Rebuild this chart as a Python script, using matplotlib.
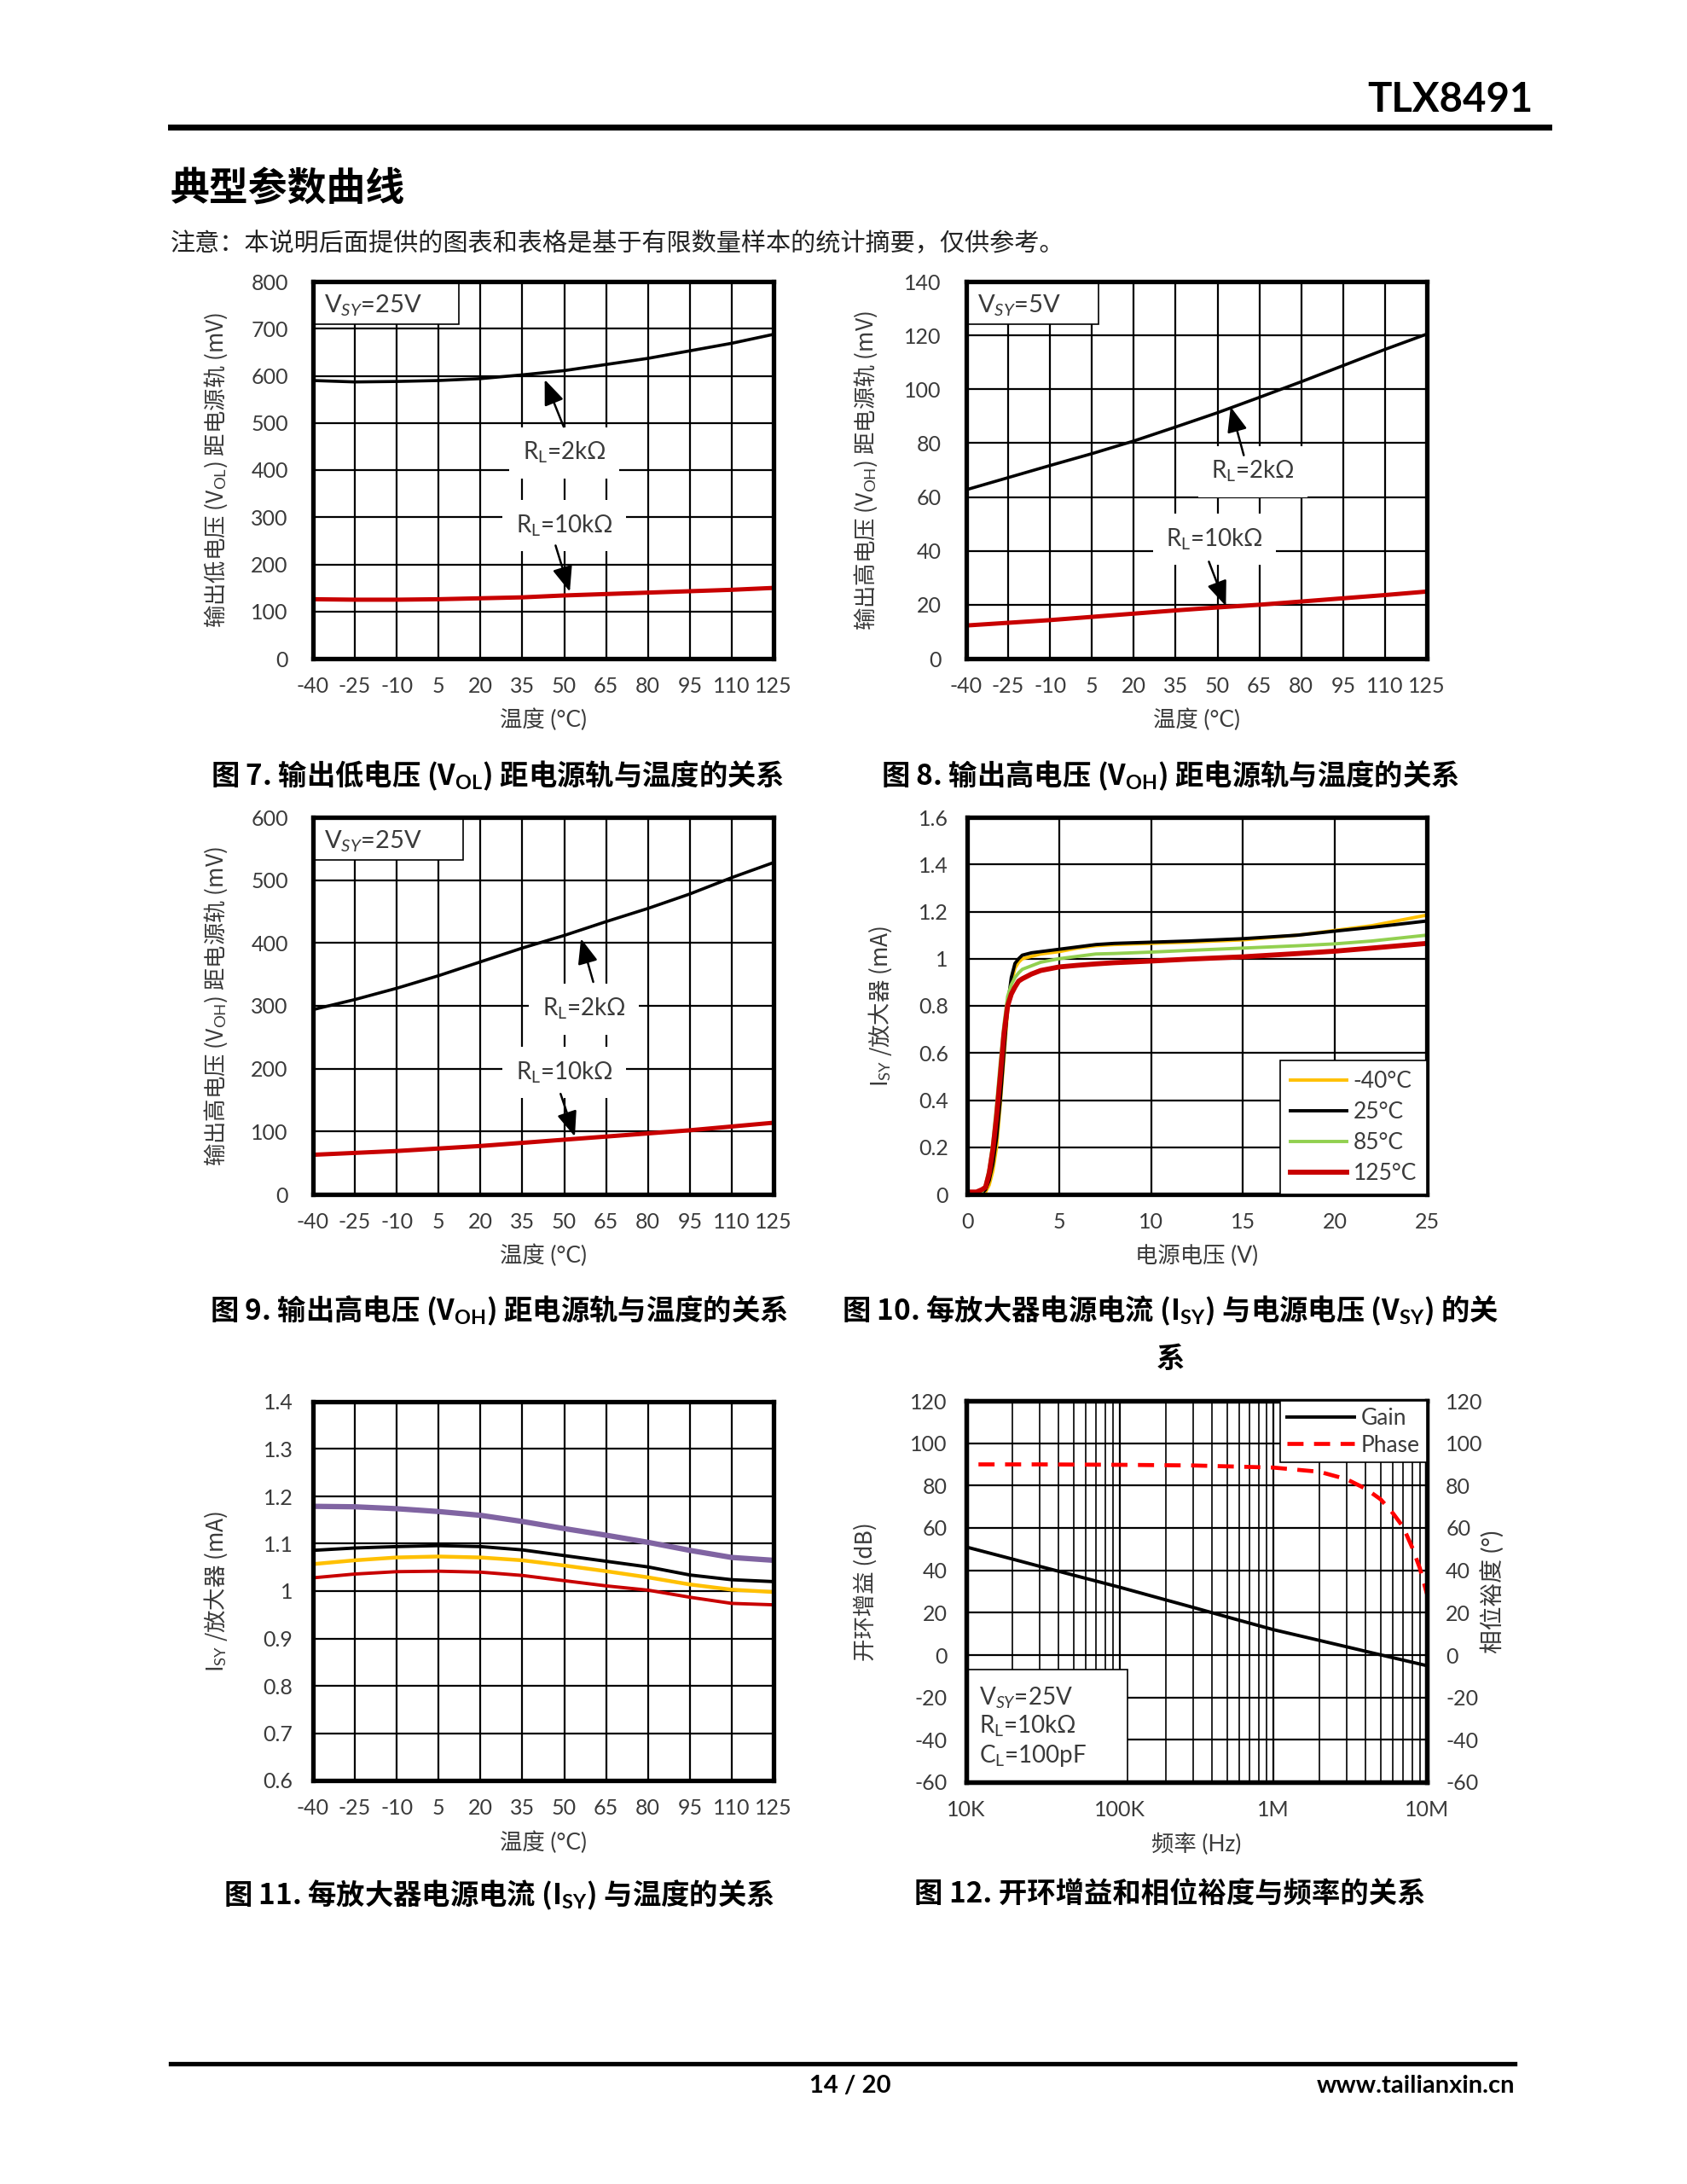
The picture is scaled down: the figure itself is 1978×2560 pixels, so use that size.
import matplotlib
matplotlib.use('Agg')
import matplotlib.pyplot as plt
import matplotlib.patches as patches
from matplotlib.lines import Line2D
from matplotlib.ticker import LogLocator, NullFormatter

plt.rcParams['font.family'] = ['Lato', 'Noto Sans CJK SC', 'DejaVu Sans']
plt.rcParams['mathtext.fontset'] = 'custom'
plt.rcParams['mathtext.rm'] = 'Lato'
plt.rcParams['mathtext.it'] = 'Lato:italic'
plt.rcParams['mathtext.bf'] = 'Lato:bold'
plt.rcParams['axes.unicode_minus'] = False

CJK = 'Noto Sans CJK SC'
NARROW = ['Liberation Sans Narrow', 'Lato']
W, H = 1978, 2560
GRAY = '#3a3a3a'
RED = '#C80000'

# ---------------- data ----------------
temps = [-40, -25, -10, 5, 20, 35, 50, 65, 80, 95, 110, 125]
temp_ticks = temps

# fig 7: VOL vs temperature, VSY=25V
vol_2k = [590, 587, 588, 590, 594, 602, 611, 624, 637, 653, 669, 688]
vol_10k = [126, 125, 125, 126, 128, 130, 134, 137, 140, 143, 146, 150]

# fig 8: VOH vs temperature, VSY=5V
voh5_2k = [62.7, 67.2, 71.7, 76.1, 80.8, 86.0, 91.3, 97.0, 102.8, 108.8, 114.8, 120.5]
voh5_10k = [12.3, 13.3, 14.3, 15.5, 16.7, 17.9, 19.0, 20.0, 21.2, 22.4, 23.6, 24.9]

# fig 9: VOH vs temperature, VSY=25V
voh25_2k = [294, 310, 328, 348, 370, 392, 412, 434, 455, 478, 504, 528]
voh25_10k = [63, 66, 69, 73, 77, 82, 87, 92, 97, 102, 108, 114]

# fig 10: ISY vs supply voltage
vsup = [0, 0.5, 0.8, 1.0, 1.2, 1.4, 1.6, 1.8, 2.0, 2.2, 2.4, 2.6, 2.8, 3.0,
        3.5, 4, 5, 6, 7, 8, 10, 12, 15, 18, 20, 22, 25]
isy_m40 = [0, 0, 0, 0.01, 0.04, 0.10, 0.20, 0.38, 0.58, 0.78, 0.90, 0.96, 0.985, 1.0,
           1.01, 1.02, 1.03, 1.045, 1.055, 1.06, 1.065, 1.07, 1.08, 1.10, 1.12, 1.14, 1.185]
isy_25 = [0, 0, 0.005, 0.02, 0.06, 0.13, 0.24, 0.40, 0.60, 0.80, 0.92, 0.98, 1.0, 1.015,
          1.025, 1.03, 1.04, 1.05, 1.06, 1.065, 1.07, 1.075, 1.085, 1.10, 1.117, 1.133, 1.16]
isy_85 = [0.005, 0.005, 0.01, 0.04, 0.11, 0.22, 0.38, 0.56, 0.72, 0.84, 0.89, 0.92, 0.94, 0.955,
          0.97, 0.985, 1.0, 1.01, 1.02, 1.022, 1.028, 1.035, 1.045, 1.055, 1.063, 1.075, 1.10]
isy_125 = [0.01, 0.01, 0.02, 0.03, 0.09, 0.19, 0.33, 0.50, 0.68, 0.80, 0.85, 0.88, 0.905, 0.915,
           0.935, 0.95, 0.965, 0.972, 0.978, 0.983, 0.99, 0.998, 1.008, 1.022, 1.032, 1.045, 1.065]
isy_labels = ['-40°C', '25°C', '85°C', '125°C']

# fig 11: ISY vs temperature (four supply conditions)
isy_t_purple = [1.179, 1.178, 1.174, 1.168, 1.160, 1.147, 1.132, 1.118, 1.103, 1.086, 1.071, 1.065]
isy_t_black = [1.086, 1.091, 1.094, 1.096, 1.094, 1.087, 1.075, 1.063, 1.051, 1.034, 1.024, 1.020]
isy_t_orange = [1.057, 1.065, 1.071, 1.073, 1.071, 1.065, 1.054, 1.042, 1.029, 1.014, 1.003, 0.998]
isy_t_red = [1.028, 1.036, 1.041, 1.042, 1.040, 1.033, 1.022, 1.011, 1.002, 0.987, 0.974, 0.971]

# fig 12: open loop gain / phase vs frequency
freq_gain = [1e4, 2e4, 3e4, 5e4, 1e5, 2e5, 3e5, 5e5, 1e6, 2e6, 3e6, 5e6, 1e7]
gain_db = [51, 45.3, 41.9, 37.7, 32, 26, 22.5, 18, 12, 6.9, 3.9, 0.1, -5]
freq_phase = [1.2e4, 3e4, 1e5, 3e5, 1e6, 2e6, 3e6, 4e6, 5e6, 6e6, 7e6, 8e6, 9e6, 1e7]
phase_deg = [90, 90, 89.8, 89.5, 88.5, 86.5, 83, 78.5, 73.5, 67, 60.5, 51, 41, 29]
freq_ticks = [1e4, 1e5, 1e6, 1e7]
freq_labels = ['10K', '100K', '1M', '10M']


def box(x0, y0, x1, y1):
    return [x0 / W, 1 - y1 / H, (x1 - x0) / W, (y1 - y0) / H]


def style(ax, xlim, ylim, xticks, yticks, ypad):
    ax.set_xlim(xlim)
    ax.set_ylim(ylim)
    ax.set_xticks(xticks)
    ax.set_yticks(yticks)
    ax.grid(True, color='black', lw=1.6)
    ax.set_axisbelow(True)
    for s in ax.spines.values():
        s.set_linewidth(3.8)
    ax.tick_params(which='both', length=0, labelsize=18, labelcolor=GRAY)
    ax.tick_params(axis='y', pad=ypad)
    ax.tick_params(axis='x', pad=15)


def labels(ax, xl, yl, ylx):
    ax.set_xlabel(xl, fontsize=19, color=GRAY, va='center')
    ax.xaxis.set_label_coords(0.5, -0.163)
    ax.set_ylabel(yl, fontsize=19, color=GRAY, va='center', family=CJK)
    ax.yaxis.set_label_coords(ylx, 0.5)


def vsy_box(ax, w, txt):
    ax.add_patch(patches.Rectangle((0, 0.886), w, 0.114, transform=ax.transAxes,
                                   fc='white', ec='black', lw=1.2, zorder=2))
    ax.text(0.024, 0.936, txt, transform=ax.transAxes, fontsize=21, color=GRAY,
            va='center', ha='left', zorder=3)


def rl_label(ax, x, y, txt):
    ax.text(x, y, txt, fontsize=20, color=GRAY, ha='center', va='center', zorder=3,
            bbox=dict(boxstyle='square,pad=0.55', fc='white', ec='none'))


def arrow(ax, tail, tip):
    ax.annotate('', xy=tip, xytext=tail, zorder=4,
                arrowprops=dict(arrowstyle='-|>,head_length=0.5,head_width=0.2',
                                mutation_scale=36, color='black', lw=1.8,
                                shrinkA=0, shrinkB=0))


fig = plt.figure(figsize=(W / 100, H / 100), dpi=100)

temp_xlabel = '温度 (°C)'

# ---- fig 7 ----
ax1 = fig.add_axes(box(367, 330, 907, 772))
style(ax1, (-40, 125), (0, 800), temp_ticks, range(0, 801, 100), 21)
ax1.plot(temps, vol_2k, color='black', lw=2.6, zorder=2)
ax1.plot(temps, vol_10k, color=RED, lw=3.6, zorder=2)
vsy_box(ax1, 0.317, 'V$_{SY}$=25V')
rl_label(ax1, 50, 437, 'R$_{\\mathrm{L}}$=2kΩ')
rl_label(ax1, 50, 282, 'R$_{\\mathrm{L}}$=10kΩ')
arrow(ax1, (49.8, 492), (43, 592))
arrow(ax1, (46.9, 240), (52, 142))
labels(ax1, temp_xlabel, '输出低电压 (V$_{\\mathrm{OL}}$) 距电源轨 (mV)', -0.211)

# ---- fig 8 ----
ax2 = fig.add_axes(box(1133, 330, 1673, 772))
style(ax2, (-40, 125), (0, 140), temp_ticks, range(0, 141, 20), 21)
ax2.plot(temps, voh5_2k, color='black', lw=2.6, zorder=2)
ax2.plot(temps, voh5_10k, color=RED, lw=3.6, zorder=2)
vsy_box(ax2, 0.287, 'V$_{SY}$=5V')
rl_label(ax2, 62.7, 69.5, 'R$_{\\mathrm{L}}$=2kΩ')
rl_label(ax2, 49, 44.2, 'R$_{\\mathrm{L}}$=10kΩ')
arrow(ax2, (59.4, 75.5), (54.7, 93.5))
arrow(ax2, (46.9, 36), (53, 19.5))
labels(ax2, temp_xlabel, '输出高电压 (V$_{\\mathrm{OH}}$) 距电源轨 (mV)', -0.218)

# ---- fig 9 ----
ax3 = fig.add_axes(box(367, 958, 907, 1400))
style(ax3, (-40, 125), (0, 600), temp_ticks, range(0, 601, 100), 21)
ax3.plot(temps, voh25_2k, color='black', lw=2.6, zorder=2)
ax3.plot(temps, voh25_10k, color=RED, lw=3.6, zorder=2)
vsy_box(ax3, 0.326, 'V$_{SY}$=25V')
rl_label(ax3, 57, 295, 'R$_{\\mathrm{L}}$=2kΩ')
rl_label(ax3, 50, 194, 'R$_{\\mathrm{L}}$=10kΩ')
arrow(ax3, (60.4, 338), (56, 407))
arrow(ax3, (48.7, 160), (53.8, 92))
labels(ax3, temp_xlabel, '输出高电压 (V$_{\\mathrm{OH}}$) 距电源轨 (mV)', -0.211)

# ---- fig 10 ----
ax4 = fig.add_axes(box(1134, 958, 1673, 1400))
style(ax4, (0, 25), (0, 1.6), range(0, 26, 5), [0, 0.2, 0.4, 0.6, 0.8, 1, 1.2, 1.4, 1.6], 16)
ax4.set_yticklabels(['0', '0.2', '0.4', '0.6', '0.8', '1', '1.2', '1.4', '1.6'])
ax4.plot(vsup, isy_m40, color='#FFC000', lw=2.8, label=isy_labels[0], zorder=2)
ax4.plot(vsup, isy_25, color='black', lw=2.8, label=isy_labels[1], zorder=2)
ax4.plot(vsup, isy_85, color='#92D050', lw=2.8, label=isy_labels[2], zorder=2)
ax4.plot(vsup, isy_125, color=RED, lw=4.2, label=isy_labels[3], zorder=2)
leg4 = ax4.legend(loc='lower right', borderaxespad=0, fontsize=19, frameon=True,
                  fancybox=False, framealpha=1, edgecolor='black', handlelength=2.5,
                  labelspacing=0.42, borderpad=0.45, handletextpad=0.3)
leg4.get_frame().set_linewidth(1.2)
for t in leg4.get_texts():
    t.set_color(GRAY)
labels(ax4, '电源电压 (V)', 'I$_{\\mathrm{SY}}$ /放大器 (mA)', -0.189)

# ---- fig 11 ----
ax5 = fig.add_axes(box(367, 1643, 907, 2087))
style(ax5, (-40, 125), (0.6, 1.4), temp_ticks, [0.6, 0.7, 0.8, 0.9, 1.0, 1.1, 1.2, 1.3, 1.4], 17)
ax5.set_yticklabels(['0.6', '0.7', '0.8', '0.9', '1', '1.1', '1.2', '1.3', '1.4'])
ax5.plot(temps, isy_t_purple, color='#8064A2', lw=4.5, zorder=2)
ax5.plot(temps, isy_t_black, color='black', lw=2.8, zorder=2)
ax5.plot(temps, isy_t_orange, color='#FFC000', lw=3.2, zorder=2)
ax5.plot(temps, isy_t_red, color=RED, lw=2.8, zorder=2)
labels(ax5, temp_xlabel, 'I$_{\\mathrm{SY}}$ /放大器 (mA)', -0.211)

# ---- fig 12 ----
ax6 = fig.add_axes(box(1133, 1642, 1673, 2089))
ax6.set_xscale('log')
style(ax6, (1e4, 1e7), (-60, 120), freq_ticks, range(-60, 121, 20), 16)
ax6.xaxis.set_minor_locator(LogLocator(base=10, subs=range(2, 10)))
ax6.xaxis.set_minor_formatter(NullFormatter())
ax6.set_xticklabels(freq_labels)
ax6.grid(True, which='minor', axis='x', color='black', lw=1.2)
g_line, = ax6.plot(freq_gain, gain_db, color='black', lw=2.8, label='Gain', zorder=2)
ax6r = ax6.twinx()
ax6r.set_ylim(-60, 120)
ax6r.set_yticks(range(-60, 121, 20))
ax6r.tick_params(length=0, labelsize=18, labelcolor=GRAY, pad=16)
for s in ax6r.spines.values():
    s.set_linewidth(3.8)
p_line, = ax6r.plot(freq_phase, phase_deg, color='#FF0000', lw=3.4, ls=(0, (4, 2.6)),
                    label='Phase', zorder=2)
leg6 = ax6r.legend([g_line, p_line], ['Gain', 'Phase'], loc='upper right', borderaxespad=0,
                   fontsize=19, frameon=True, fancybox=False, framealpha=1, edgecolor='black',
                   handlelength=3.0, labelspacing=0.25, borderpad=0.3, handletextpad=0.3)
leg6.get_frame().set_linewidth(1.2)
for t in leg6.get_texts():
    t.set_color(GRAY)
ax6.add_patch(patches.Rectangle((0, 0), 0.35, 0.296, transform=ax6.transAxes,
                                fc='white', ec='black', lw=1.2, zorder=2.5))
for yy, txt in zip([0.222, 0.146, 0.07],
                   ['V$_{SY}$=25V', 'R$_{\\mathrm{L}}$=10kΩ', 'C$_{\\mathrm{L}}$=100pF']):
    ax6.text(0.027, yy, txt, transform=ax6.transAxes, fontsize=20, color=GRAY,
             ha='left', va='center', zorder=3)
labels(ax6, '频率 (Hz)', '开环增益 (dB)', -0.218)
ax6r.set_ylabel('相位裕度 (°)', fontsize=20, color=GRAY, va='center', rotation=90)
ax6r.yaxis.set_label_coords(1.143, 0.5)

# ---------------- page decoration ----------------
def fx(px):
    return px / W


def fy(py):
    return 1 - py / H


fig.text(fx(1798), fy(117), 'TLX8491', family=NARROW, fontweight='bold', fontsize=34,
         ha='right', va='center')
fig.add_artist(Line2D([fx(200), fx(1816)], [fy(149), fy(149)], color='black', lw=5))
fig.text(fx(200), fy(222), '典型参数曲线', family=CJK, fontweight='bold', fontsize=33,
         ha='left', va='center')
fig.text(fx(200), fy(286), '注意：本说明后面提供的图表和表格是基于有限数量样本的统计摘要，仅供参考。',
         family=CJK, fontsize=21, ha='left', va='center', color='#222222')

cap_kw = dict(family=CJK, fontweight='bold', fontsize=24, ha='center', va='center')
fig.text(fx(583), fy(909), '图 7. 输出低电压 (V$_{\\mathbf{OL}}$) 距电源轨与温度的关系', **cap_kw)
fig.text(fx(1372), fy(909), '图 8. 输出高电压 (V$_{\\mathbf{OH}}$) 距电源轨与温度的关系', **cap_kw)
fig.text(fx(585), fy(1536), '图 9. 输出高电压 (V$_{\\mathbf{OH}}$) 距电源轨与温度的关系', **cap_kw)
fig.text(fx(1372), fy(1536), '图 10. 每放大器电源电流 (I$_{\\mathbf{SY}}$) 与电源电压 (V$_{\\mathbf{SY}}$) 的关', **cap_kw)
fig.text(fx(1372), fy(1593), '系', **cap_kw)
fig.text(fx(585), fy(2221), '图 11. 每放大器电源电流 (I$_{\\mathbf{SY}}$) 与温度的关系', **cap_kw)
fig.text(fx(1372), fy(2221), '图 12. 开环增益和相位裕度与频率的关系', **cap_kw)

fig.add_artist(Line2D([fx(200), fx(1776)], [fy(2419), fy(2419)], color='black', lw=3.8))
fig.text(fx(997), fy(2445), '14 / 20', family=NARROW, fontweight='bold', fontsize=21,
         ha='center', va='center')
fig.text(fx(1776), fy(2445), 'www.tailianxin.cn', family=NARROW, fontweight='bold', fontsize=21,
         ha='right', va='center')

fig.savefig('out.png', dpi=100, facecolor='white')
